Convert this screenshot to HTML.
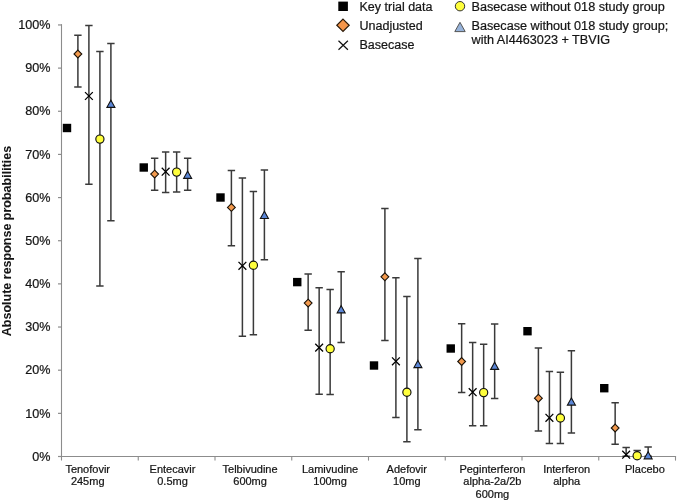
<!DOCTYPE html>
<html><head><meta charset="utf-8"><style>
html,body{margin:0;padding:0;background:#fff;}
body{width:685px;height:501px;overflow:hidden;}
svg{display:block;}
.w{will-change:transform;width:685px;height:501px;}
text{font-family:"Liberation Sans",sans-serif;fill:#151515;stroke:#151515;stroke-width:0.22px;}
.yt{font-size:12.6px;}
.xl{font-size:11px;}
.lg{font-size:12.5px;}
.lg2{font-size:12.65px;}
.yttl{font-size:12.5px;font-weight:bold;stroke-width:0.05px;}
</style></head><body>
<div class="w"><svg width="685" height="501" viewBox="0 0 685 501">
<rect width="685" height="501" fill="#fff"/>
<line x1="61.5" y1="24.349999999999998" x2="61.5" y2="460.6" stroke="#8c8c8c" stroke-width="1.1"/>
<line x1="58" y1="456.50" x2="62.0" y2="456.50" stroke="#8c8c8c" stroke-width="1.2"/>
<line x1="58" y1="413.35" x2="62.0" y2="413.35" stroke="#8c8c8c" stroke-width="1.2"/>
<line x1="58" y1="370.19" x2="62.0" y2="370.19" stroke="#8c8c8c" stroke-width="1.2"/>
<line x1="58" y1="327.03" x2="62.0" y2="327.03" stroke="#8c8c8c" stroke-width="1.2"/>
<line x1="58" y1="283.88" x2="62.0" y2="283.88" stroke="#8c8c8c" stroke-width="1.2"/>
<line x1="58" y1="240.72" x2="62.0" y2="240.72" stroke="#8c8c8c" stroke-width="1.2"/>
<line x1="58" y1="197.57" x2="62.0" y2="197.57" stroke="#8c8c8c" stroke-width="1.2"/>
<line x1="58" y1="154.42" x2="62.0" y2="154.42" stroke="#8c8c8c" stroke-width="1.2"/>
<line x1="58" y1="111.26" x2="62.0" y2="111.26" stroke="#8c8c8c" stroke-width="1.2"/>
<line x1="58" y1="68.10" x2="62.0" y2="68.10" stroke="#8c8c8c" stroke-width="1.2"/>
<line x1="58" y1="24.95" x2="62.0" y2="24.95" stroke="#8c8c8c" stroke-width="1.2"/>
<line x1="61.5" y1="456.5" x2="676.1" y2="456.5" stroke="#8c8c8c" stroke-width="1.2"/>
<line x1="138.25" y1="456.5" x2="138.25" y2="460.6" stroke="#8c8c8c" stroke-width="1.1"/>
<line x1="215.00" y1="456.5" x2="215.00" y2="460.6" stroke="#8c8c8c" stroke-width="1.1"/>
<line x1="291.75" y1="456.5" x2="291.75" y2="460.6" stroke="#8c8c8c" stroke-width="1.1"/>
<line x1="368.50" y1="456.5" x2="368.50" y2="460.6" stroke="#8c8c8c" stroke-width="1.1"/>
<line x1="445.25" y1="456.5" x2="445.25" y2="460.6" stroke="#8c8c8c" stroke-width="1.1"/>
<line x1="522.00" y1="456.5" x2="522.00" y2="460.6" stroke="#8c8c8c" stroke-width="1.1"/>
<line x1="598.75" y1="456.5" x2="598.75" y2="460.6" stroke="#8c8c8c" stroke-width="1.1"/>
<line x1="675.50" y1="456.5" x2="675.50" y2="460.6" stroke="#8c8c8c" stroke-width="1.1"/>
<text x="50.5" y="460.70" text-anchor="end" class="yt">0%</text>
<text x="50.5" y="417.55" text-anchor="end" class="yt">10%</text>
<text x="50.5" y="374.39" text-anchor="end" class="yt">20%</text>
<text x="50.5" y="331.23" text-anchor="end" class="yt">30%</text>
<text x="50.5" y="288.08" text-anchor="end" class="yt">40%</text>
<text x="50.5" y="244.92" text-anchor="end" class="yt">50%</text>
<text x="50.5" y="201.77" text-anchor="end" class="yt">60%</text>
<text x="50.5" y="158.62" text-anchor="end" class="yt">70%</text>
<text x="50.5" y="115.46" text-anchor="end" class="yt">80%</text>
<text x="50.5" y="72.30" text-anchor="end" class="yt">90%</text>
<text x="50.5" y="29.15" text-anchor="end" class="yt">100%</text>
<path d="M77.90 35.30V87.00M74.20 35.30H81.60M74.20 87.00H81.60" stroke="#3a3a3a" stroke-width="1.5" fill="none"/>
<path d="M88.90 25.50V184.20M85.20 25.50H92.60M85.20 184.20H92.60" stroke="#3a3a3a" stroke-width="1.5" fill="none"/>
<path d="M99.90 51.60V286.00M96.20 51.60H103.60M96.20 286.00H103.60" stroke="#3a3a3a" stroke-width="1.5" fill="none"/>
<path d="M110.90 43.50V220.70M107.20 43.50H114.60M107.20 220.70H114.60" stroke="#3a3a3a" stroke-width="1.5" fill="none"/>
<path d="M154.65 158.30V190.30M150.95 158.30H158.35M150.95 190.30H158.35" stroke="#3a3a3a" stroke-width="1.5" fill="none"/>
<path d="M165.65 152.00V192.50M161.95 152.00H169.35M161.95 192.50H169.35" stroke="#3a3a3a" stroke-width="1.5" fill="none"/>
<path d="M176.65 152.00V192.10M172.95 152.00H180.35M172.95 192.10H180.35" stroke="#3a3a3a" stroke-width="1.5" fill="none"/>
<path d="M187.65 158.30V190.30M183.95 158.30H191.35M183.95 190.30H191.35" stroke="#3a3a3a" stroke-width="1.5" fill="none"/>
<path d="M231.40 170.40V245.80M227.70 170.40H235.10M227.70 245.80H235.10" stroke="#3a3a3a" stroke-width="1.5" fill="none"/>
<path d="M242.40 178.00V336.20M238.70 178.00H246.10M238.70 336.20H246.10" stroke="#3a3a3a" stroke-width="1.5" fill="none"/>
<path d="M253.40 191.60V334.80M249.70 191.60H257.10M249.70 334.80H257.10" stroke="#3a3a3a" stroke-width="1.5" fill="none"/>
<path d="M264.40 169.90V259.70M260.70 169.90H268.10M260.70 259.70H268.10" stroke="#3a3a3a" stroke-width="1.5" fill="none"/>
<path d="M308.15 274.10V330.30M304.45 274.10H311.85M304.45 330.30H311.85" stroke="#3a3a3a" stroke-width="1.5" fill="none"/>
<path d="M319.15 287.80V394.30M315.45 287.80H322.85M315.45 394.30H322.85" stroke="#3a3a3a" stroke-width="1.5" fill="none"/>
<path d="M330.15 289.40V394.60M326.45 289.40H333.85M326.45 394.60H333.85" stroke="#3a3a3a" stroke-width="1.5" fill="none"/>
<path d="M341.15 271.80V342.40M337.45 271.80H344.85M337.45 342.40H344.85" stroke="#3a3a3a" stroke-width="1.5" fill="none"/>
<path d="M384.90 208.60V340.40M381.20 208.60H388.60M381.20 340.40H388.60" stroke="#3a3a3a" stroke-width="1.5" fill="none"/>
<path d="M395.90 277.80V417.60M392.20 277.80H399.60M392.20 417.60H399.60" stroke="#3a3a3a" stroke-width="1.5" fill="none"/>
<path d="M406.90 296.60V441.70M403.20 296.60H410.60M403.20 441.70H410.60" stroke="#3a3a3a" stroke-width="1.5" fill="none"/>
<path d="M417.90 258.50V429.70M414.20 258.50H421.60M414.20 429.70H421.60" stroke="#3a3a3a" stroke-width="1.5" fill="none"/>
<path d="M461.65 323.70V392.40M457.95 323.70H465.35M457.95 392.40H465.35" stroke="#3a3a3a" stroke-width="1.5" fill="none"/>
<path d="M472.65 342.40V425.70M468.95 342.40H476.35M468.95 425.70H476.35" stroke="#3a3a3a" stroke-width="1.5" fill="none"/>
<path d="M483.65 344.20V425.70M479.95 344.20H487.35M479.95 425.70H487.35" stroke="#3a3a3a" stroke-width="1.5" fill="none"/>
<path d="M494.65 324.00V398.60M490.95 324.00H498.35M490.95 398.60H498.35" stroke="#3a3a3a" stroke-width="1.5" fill="none"/>
<path d="M538.40 347.90V431.00M534.70 347.90H542.10M534.70 431.00H542.10" stroke="#3a3a3a" stroke-width="1.5" fill="none"/>
<path d="M549.40 371.50V443.60M545.70 371.50H553.10M545.70 443.60H553.10" stroke="#3a3a3a" stroke-width="1.5" fill="none"/>
<path d="M560.40 372.30V443.60M556.70 372.30H564.10M556.70 443.60H564.10" stroke="#3a3a3a" stroke-width="1.5" fill="none"/>
<path d="M571.40 350.80V433.10M567.70 350.80H575.10M567.70 433.10H575.10" stroke="#3a3a3a" stroke-width="1.5" fill="none"/>
<path d="M615.15 402.80V444.20M611.45 402.80H618.85M611.45 444.20H618.85" stroke="#3a3a3a" stroke-width="1.5" fill="none"/>
<path d="M626.15 447.50V456.30M622.45 447.50H629.85M622.45 456.30H629.85" stroke="#3a3a3a" stroke-width="1.5" fill="none"/>
<path d="M637.15 450.60V456.30M633.45 450.60H640.85M633.45 456.30H640.85" stroke="#3a3a3a" stroke-width="1.5" fill="none"/>
<path d="M648.15 447.00V456.30M644.45 447.00H651.85M644.45 456.30H651.85" stroke="#3a3a3a" stroke-width="1.5" fill="none"/>
<rect x="62.80" y="123.80" width="8.4" height="8.4" fill="#000"/>
<path d="M77.90 50.10L81.80 54.00L77.90 57.90L74.00 54.00Z" fill="#F39A4E" stroke="#1a1208" stroke-width="1.1"/>
<path d="M85.00 92.10L92.80 99.90M92.80 92.10L85.00 99.90" stroke="#000" stroke-width="1.3"/>
<circle cx="99.90" cy="139.10" r="4.1" fill="#FFFF3C" stroke="#111" stroke-width="1.15"/>
<path d="M110.90 100.15L114.90 107.35L106.90 107.35Z" fill="#5B86D6" stroke="#111" stroke-width="1.1" stroke-linejoin="miter"/>
<rect x="139.55" y="163.30" width="8.4" height="8.4" fill="#000"/>
<path d="M154.65 170.20L158.55 174.10L154.65 178.00L150.75 174.10Z" fill="#F39A4E" stroke="#1a1208" stroke-width="1.1"/>
<path d="M161.75 167.80L169.55 175.60M169.55 167.80L161.75 175.60" stroke="#000" stroke-width="1.3"/>
<circle cx="176.65" cy="172.10" r="4.1" fill="#FFFF3C" stroke="#111" stroke-width="1.15"/>
<path d="M187.65 171.15L191.65 178.35L183.65 178.35Z" fill="#5B86D6" stroke="#111" stroke-width="1.1" stroke-linejoin="miter"/>
<rect x="216.30" y="193.30" width="8.4" height="8.4" fill="#000"/>
<path d="M231.40 203.50L235.30 207.40L231.40 211.30L227.50 207.40Z" fill="#F39A4E" stroke="#1a1208" stroke-width="1.1"/>
<path d="M238.50 261.90L246.30 269.70M246.30 261.90L238.50 269.70" stroke="#000" stroke-width="1.3"/>
<circle cx="253.40" cy="265.20" r="4.1" fill="#FFFF3C" stroke="#111" stroke-width="1.15"/>
<path d="M264.40 211.30L268.40 218.50L260.40 218.50Z" fill="#5B86D6" stroke="#111" stroke-width="1.1" stroke-linejoin="miter"/>
<rect x="293.05" y="277.90" width="8.4" height="8.4" fill="#000"/>
<path d="M308.15 299.20L312.05 303.10L308.15 307.00L304.25 303.10Z" fill="#F39A4E" stroke="#1a1208" stroke-width="1.1"/>
<path d="M315.25 343.70L323.05 351.50M323.05 343.70L315.25 351.50" stroke="#000" stroke-width="1.3"/>
<circle cx="330.15" cy="348.70" r="4.1" fill="#FFFF3C" stroke="#111" stroke-width="1.15"/>
<path d="M341.15 305.65L345.15 312.85L337.15 312.85Z" fill="#5B86D6" stroke="#111" stroke-width="1.1" stroke-linejoin="miter"/>
<rect x="369.80" y="361.30" width="8.4" height="8.4" fill="#000"/>
<path d="M384.90 272.90L388.80 276.80L384.90 280.70L381.00 276.80Z" fill="#F39A4E" stroke="#1a1208" stroke-width="1.1"/>
<path d="M392.00 357.40L399.80 365.20M399.80 357.40L392.00 365.20" stroke="#000" stroke-width="1.3"/>
<circle cx="406.90" cy="392.30" r="4.1" fill="#FFFF3C" stroke="#111" stroke-width="1.15"/>
<path d="M417.90 360.40L421.90 367.60L413.90 367.60Z" fill="#5B86D6" stroke="#111" stroke-width="1.1" stroke-linejoin="miter"/>
<rect x="446.55" y="344.30" width="8.4" height="8.4" fill="#000"/>
<path d="M461.65 357.60L465.55 361.50L461.65 365.40L457.75 361.50Z" fill="#F39A4E" stroke="#1a1208" stroke-width="1.1"/>
<path d="M468.75 388.30L476.55 396.10M476.55 388.30L468.75 396.10" stroke="#000" stroke-width="1.3"/>
<circle cx="483.65" cy="392.60" r="4.1" fill="#FFFF3C" stroke="#111" stroke-width="1.15"/>
<path d="M494.65 362.20L498.65 369.40L490.65 369.40Z" fill="#5B86D6" stroke="#111" stroke-width="1.1" stroke-linejoin="miter"/>
<rect x="523.30" y="327.00" width="8.4" height="8.4" fill="#000"/>
<path d="M538.40 394.30L542.30 398.20L538.40 402.10L534.50 398.20Z" fill="#F39A4E" stroke="#1a1208" stroke-width="1.1"/>
<path d="M545.50 413.90L553.30 421.70M553.30 413.90L545.50 421.70" stroke="#000" stroke-width="1.3"/>
<circle cx="560.40" cy="418.00" r="4.1" fill="#FFFF3C" stroke="#111" stroke-width="1.15"/>
<path d="M571.40 397.90L575.40 405.10L567.40 405.10Z" fill="#5B86D6" stroke="#111" stroke-width="1.1" stroke-linejoin="miter"/>
<rect x="600.05" y="384.00" width="8.4" height="8.4" fill="#000"/>
<path d="M615.15 424.10L619.05 428.00L615.15 431.90L611.25 428.00Z" fill="#F39A4E" stroke="#1a1208" stroke-width="1.1"/>
<path d="M622.25 450.80L630.05 458.60M630.05 450.80L622.25 458.60" stroke="#000" stroke-width="1.3"/>
<circle cx="637.15" cy="455.70" r="4.1" fill="#FFFF3C" stroke="#111" stroke-width="1.15"/>
<path d="M648.15 451.65L652.15 458.85L644.15 458.85Z" fill="#5B86D6" stroke="#111" stroke-width="1.1" stroke-linejoin="miter"/>
<text x="87.7" y="472.90" text-anchor="middle" class="xl">Tenofovir</text>
<text x="87.7" y="485.30" text-anchor="middle" class="xl">245mg</text>
<text x="172.5" y="472.90" text-anchor="middle" class="xl">Entecavir</text>
<text x="172.5" y="485.30" text-anchor="middle" class="xl">0.5mg</text>
<text x="250.1" y="472.90" text-anchor="middle" class="xl">Telbivudine</text>
<text x="250.1" y="485.30" text-anchor="middle" class="xl">600mg</text>
<text x="330.1" y="472.90" text-anchor="middle" class="xl">Lamivudine</text>
<text x="330.1" y="485.30" text-anchor="middle" class="xl">100mg</text>
<text x="406.8" y="472.90" text-anchor="middle" class="xl">Adefovir</text>
<text x="406.8" y="485.30" text-anchor="middle" class="xl">10mg</text>
<text x="492.4" y="472.90" text-anchor="middle" class="xl">Peginterferon</text>
<text x="492.4" y="485.30" text-anchor="middle" class="xl">alpha-2a/2b</text>
<text x="492.4" y="497.70" text-anchor="middle" class="xl">600mg</text>
<text x="566.7" y="472.90" text-anchor="middle" class="xl">Interferon</text>
<text x="566.7" y="485.30" text-anchor="middle" class="xl">alpha</text>
<text x="644.9" y="472.90" text-anchor="middle" class="xl">Placebo</text>
<text transform="translate(11.1 241) rotate(-90)" text-anchor="middle" class="yttl">Absolute response probabilities</text>
<rect x="338.3" y="1.6" width="9.6" height="9.4" fill="#000"/>
<path d="M343 19.05L349.2 25.25L343 31.45L336.8 25.25Z" fill="#F5964A" stroke="#2b1a0a" stroke-width="1.2"/>
<path d="M338.5 40.8L347.9 49.8M347.9 40.8L338.5 49.8" stroke="#111" stroke-width="1.2"/>
<text x="359.5" y="11" class="lg">Key trial data</text>
<text x="359.5" y="30" class="lg">Unadjusted</text>
<text x="359.5" y="49" class="lg">Basecase</text>
<circle cx="460" cy="6.2" r="4.7" fill="#FFFF3C" stroke="#333" stroke-width="1"/>
<path d="M460 22.3L465.2 31.6L454.8 31.6Z" fill="#97B3DA" stroke="#555" stroke-width="1"/>
<text x="471.5" y="10.6" class="lg2">Basecase without 018 study group</text>
<text x="471.5" y="29.9" class="lg2">Basecase without 018 study group;</text>
<text x="471.5" y="43.9" class="lg2">with AI4463023 + TBVIG</text>
</svg></div>
</body></html>
